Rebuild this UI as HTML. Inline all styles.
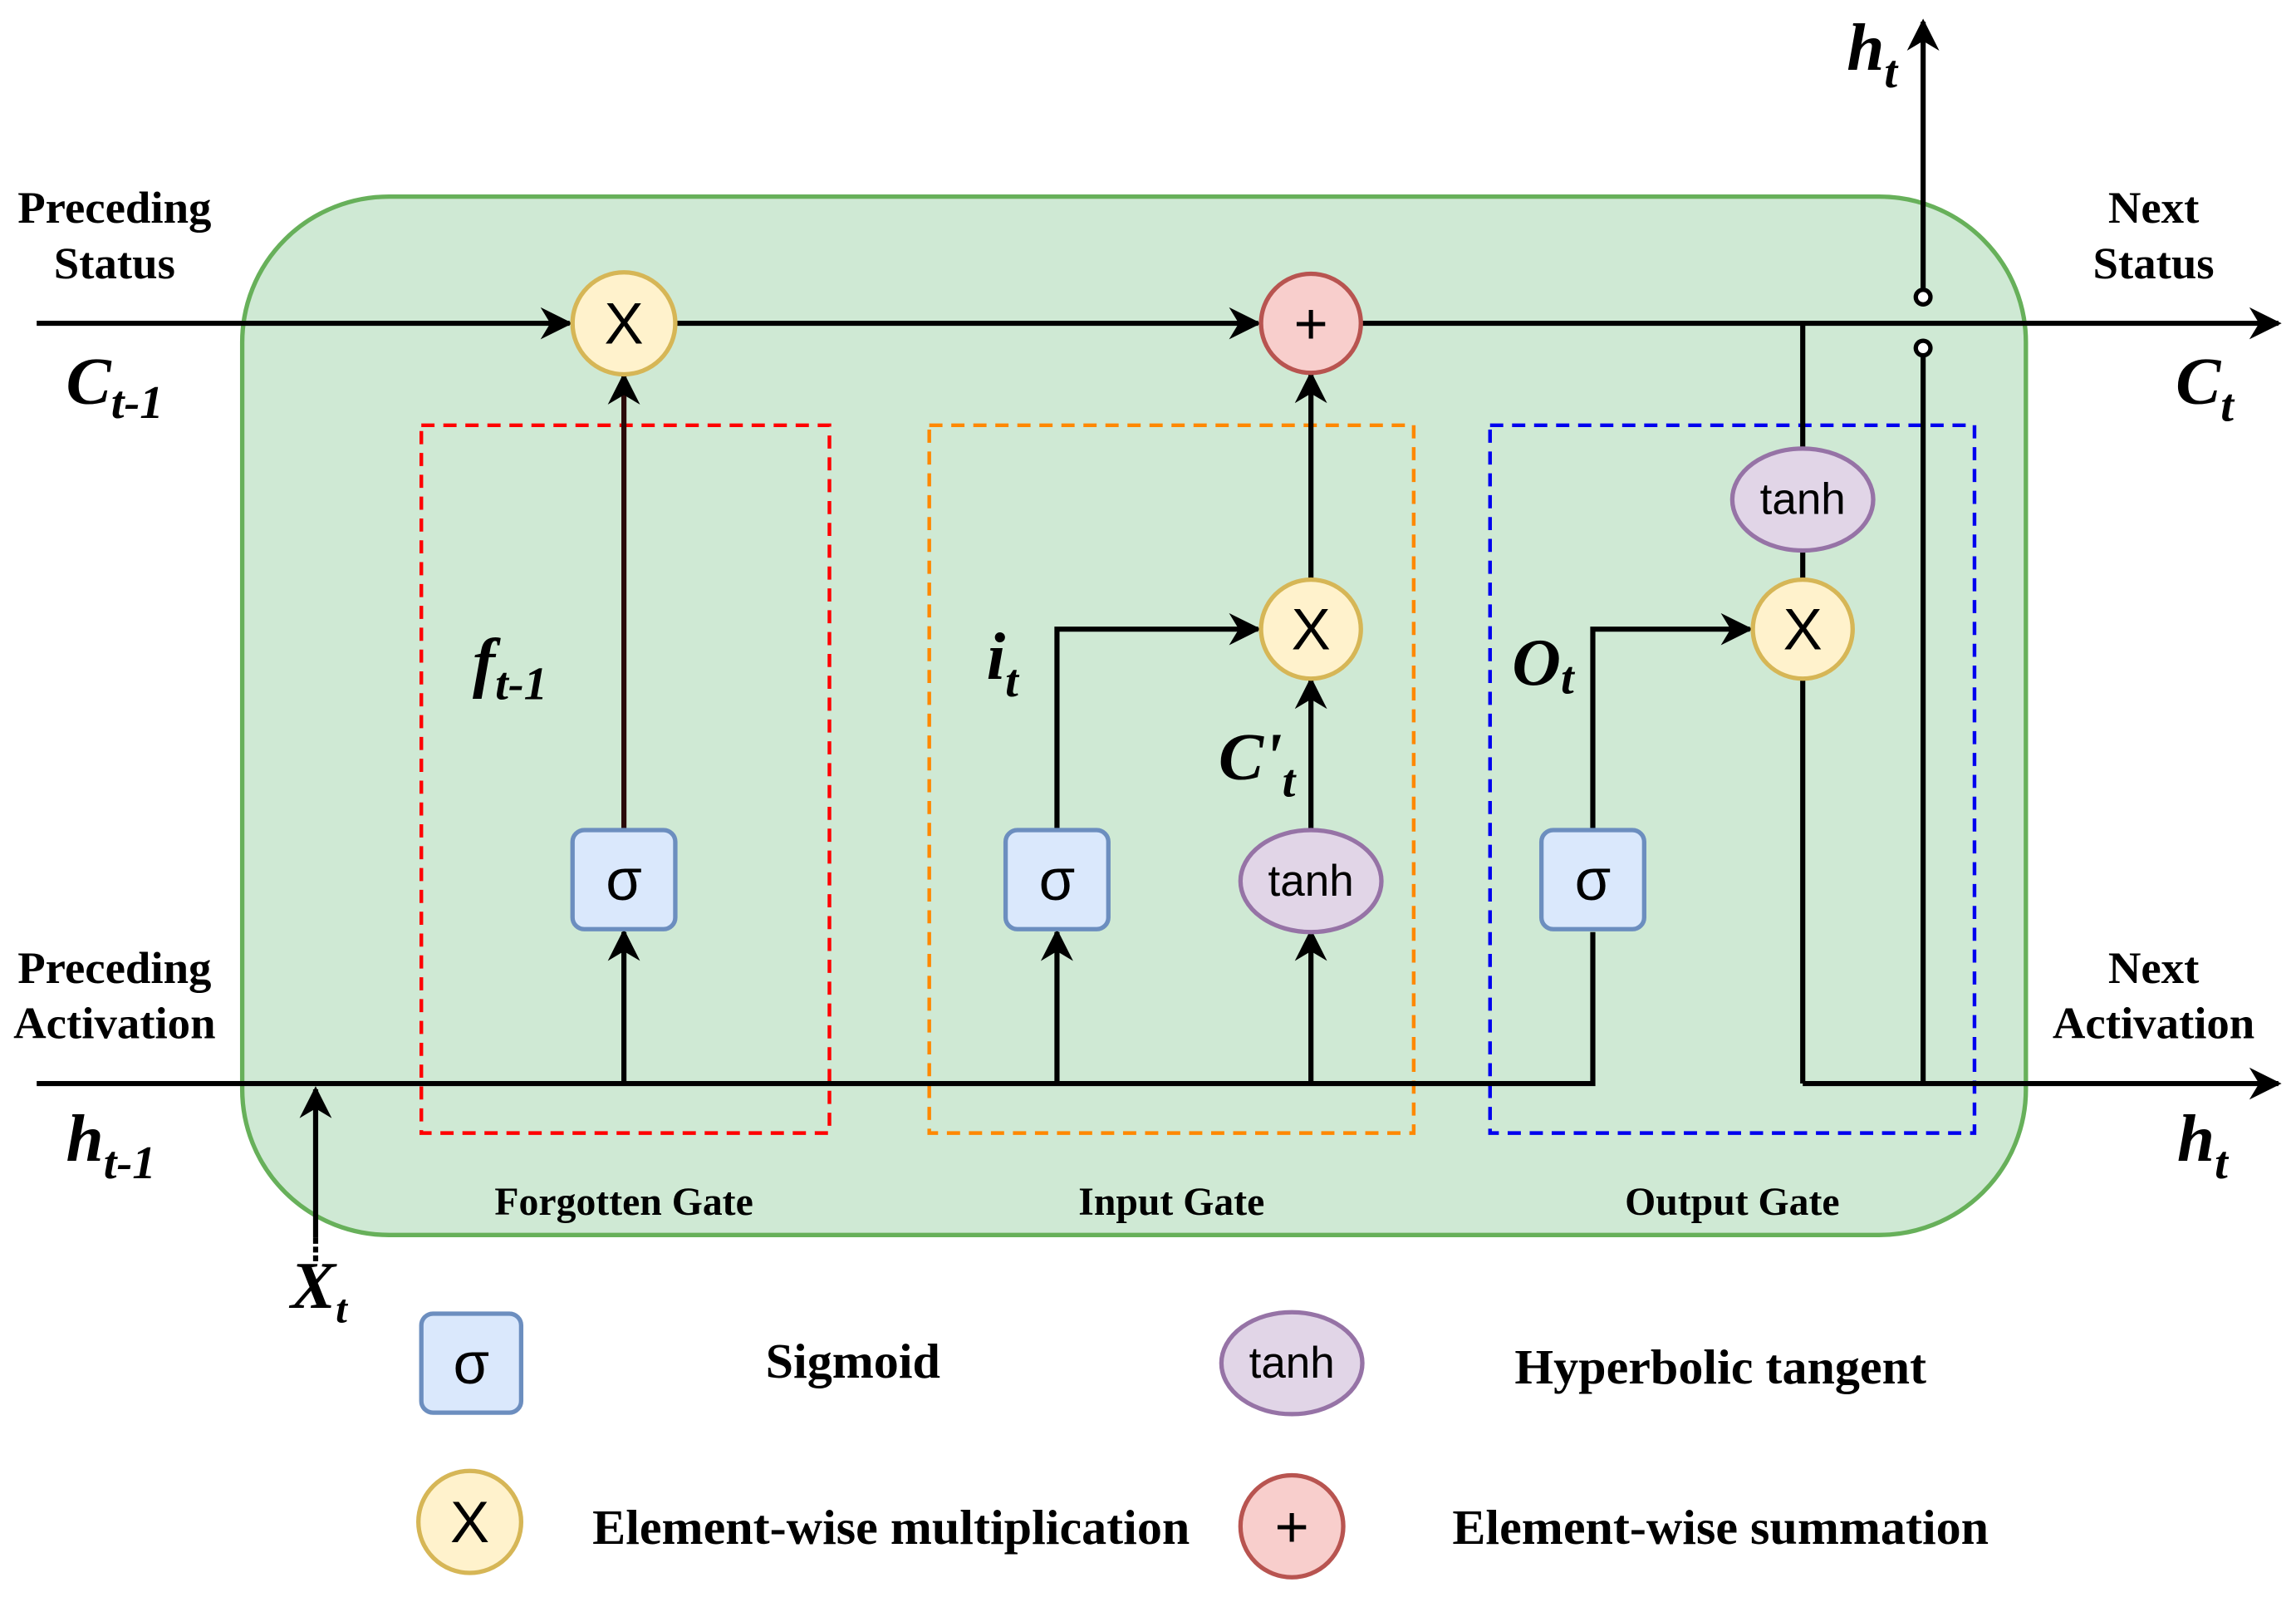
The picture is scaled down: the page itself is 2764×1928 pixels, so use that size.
<!DOCTYPE html>
<html><head><meta charset="utf-8"><style>
html,body{margin:0;padding:0;background:#fff;}
svg{display:block;}
.lbl{font-family:"Liberation Serif",serif;font-weight:bold;font-size:31px;fill:#000;text-anchor:middle;}
.lg{font-family:"Liberation Serif",serif;font-weight:bold;font-size:34px;fill:#000;text-anchor:middle;}
.gl{font-family:"Liberation Serif",serif;font-weight:bold;font-size:27px;fill:#000;text-anchor:middle;}
.m{font-family:"Liberation Serif",serif;font-weight:bold;font-style:italic;font-size:46px;fill:#000;}
.s{font-family:"Liberation Sans",sans-serif;font-size:40px;fill:#000;text-anchor:middle;dominant-baseline:central;}
.t{font-family:"Liberation Sans",sans-serif;font-size:30px;fill:#000;text-anchor:middle;dominant-baseline:central;}
</style></head><body>
<svg width="2764" height="1928" viewBox="0 0 1564 1100" preserveAspectRatio="none" xmlns="http://www.w3.org/2000/svg">
<defs>
<marker id="b" viewBox="0 0 10 10" refX="9" refY="5" markerWidth="22" markerHeight="22" markerUnits="userSpaceOnUse" orient="auto">
<path d="M0,0 L10,5 L0,10 L3,5 z" fill="#000"/></marker>
</defs>
<rect x="165" y="135" width="1215" height="713" rx="100" fill="#cfe9d4" stroke="#67b05a" stroke-width="3"/>
<g fill="none" stroke-width="2.5" stroke-dasharray="9,6">
<rect x="287" y="292" width="278" height="486" stroke="#ff0000"/>
<rect x="633" y="292" width="330" height="486" stroke="#ff8800"/>
<rect x="1015" y="292" width="330" height="486" stroke="#0000ee"/>
</g>
<g stroke="#000" stroke-width="3.5" fill="none">
<line x1="25" y1="222" x2="388" y2="222" marker-end="url(#b)"/>
<line x1="460" y1="222" x2="857" y2="222" marker-end="url(#b)"/>
<line x1="927" y1="222" x2="1552" y2="222" marker-end="url(#b)"/>
<polyline points="25,744 1085,744 1085,640"/>
<line x1="1228" y1="744" x2="1552" y2="744" marker-end="url(#b)"/>
<line x1="215" y1="850" x2="215" y2="748" marker-end="url(#b)"/>
<line x1="215" y1="850" x2="215" y2="866" stroke-dasharray="4,2"/>
<line x1="425" y1="744" x2="425" y2="640" marker-end="url(#b)"/>
<line x1="425" y1="570" x2="425" y2="258" stroke="#2a0a0a" marker-end="url(#b)"/>
<line x1="720" y1="744" x2="720" y2="640" marker-end="url(#b)"/>
<polyline points="720,570 720,432 857,432" marker-end="url(#b)"/>
<line x1="893" y1="744" x2="893" y2="640" marker-end="url(#b)"/>
<line x1="893" y1="570" x2="893" y2="467" marker-end="url(#b)"/>
<line x1="893" y1="398" x2="893" y2="257" marker-end="url(#b)"/>
<polyline points="1085,570 1085,432 1192,432" marker-end="url(#b)"/>
<line x1="1228" y1="222" x2="1228" y2="308"/>
<line x1="1228" y1="378" x2="1228" y2="398"/>
<polyline points="1228,466 1228,744"/>
<line x1="1310" y1="744" x2="1310" y2="245"/>
<line x1="1310" y1="199" x2="1310" y2="15" marker-end="url(#b)"/>
<circle cx="1310" cy="239" r="5" fill="#fff" stroke-width="3"/>
<circle cx="1310" cy="204" r="5" fill="#fff" stroke-width="3"/>
</g>
<g stroke-width="3">
<circle cx="425" cy="222" r="35" fill="#fff2cc" stroke="#d6b656"/>
<circle cx="893" cy="222" r="34" fill="#f8cecc" stroke="#b85450"/>
<circle cx="893" cy="432" r="34" fill="#fff2cc" stroke="#d6b656"/>
<circle cx="1228" cy="432" r="34" fill="#fff2cc" stroke="#d6b656"/>
<rect x="390" y="570" width="70" height="68" rx="8" fill="#dae8fc" stroke="#6c8ebf"/>
<rect x="685" y="570" width="70" height="68" rx="8" fill="#dae8fc" stroke="#6c8ebf"/>
<rect x="1050" y="570" width="70" height="68" rx="8" fill="#dae8fc" stroke="#6c8ebf"/>
<ellipse cx="893" cy="605" rx="48" ry="35" fill="#e1d5e7" stroke="#9673a6"/>
<ellipse cx="1228" cy="343" rx="48" ry="35" fill="#e1d5e7" stroke="#9673a6"/>
<rect x="287" y="902" width="68" height="68" rx="8" fill="#dae8fc" stroke="#6c8ebf"/>
<ellipse cx="880" cy="936" rx="48" ry="35" fill="#e1d5e7" stroke="#9673a6"/>
<circle cx="320" cy="1045" r="35" fill="#fff2cc" stroke="#d6b656"/>
<circle cx="880" cy="1048" r="35" fill="#f8cecc" stroke="#b85450"/>
</g>
<text class="s" x="425" y="222">X</text>
<text class="s" x="893" y="222">+</text>
<text class="s" x="893" y="432">X</text>
<text class="s" x="1228" y="432">X</text>
<text class="s" x="425" y="604">σ</text>
<text class="s" x="720" y="604">σ</text>
<text class="s" x="1085" y="604">σ</text>
<text class="t" x="893" y="605">tanh</text>
<text class="t" x="1228" y="343">tanh</text>
<text class="s" x="321" y="936">σ</text>
<text class="t" x="880" y="936">tanh</text>
<text class="s" x="320" y="1045">X</text>
<text class="s" x="880" y="1048">+</text>
<text class="lbl" x="78" y="153">Preceding</text>
<text class="lbl" x="78" y="191">Status</text>
<text class="lbl" x="1467" y="153">Next</text>
<text class="lbl" x="1467" y="191">Status</text>
<text class="lbl" x="78" y="675">Preceding</text>
<text class="lbl" x="78" y="713">Activation</text>
<text class="lbl" x="1467" y="675">Next</text>
<text class="lbl" x="1467" y="713">Activation</text>
<text class="gl" x="425" y="834">Forgotten Gate</text>
<text class="gl" x="798" y="834">Input Gate</text>
<text class="gl" x="1180" y="834">Output Gate</text>
<text class="lg" x="581" y="946">Sigmoid</text>
<text class="lg" x="1172" y="950">Hyperbolic tangent</text>
<text class="lg" x="607" y="1060">Element-wise multiplication</text>
<text class="lg" x="1172" y="1060">Element-wise summation</text>
<text class="m" x="45" y="277">C<tspan font-size="32" dy="10">t-1</tspan></text>
<text class="m" x="1482" y="277">C<tspan font-size="32" dy="12">t</tspan></text>
<text class="m" x="1258" y="48">h<tspan font-size="32" dy="12">t</tspan></text>
<text class="m" x="45" y="797">h<tspan font-size="32" dy="12">t-1</tspan></text>
<text class="m" x="1483" y="797">h<tspan font-size="32" dy="12">t</tspan></text>
<text class="m" x="198" y="898" font-size="38">X<tspan font-size="28" dy="10">t</tspan></text>
<text class="m" x="322" y="470">f<tspan font-size="32" dy="10">t-1</tspan></text>
<text class="m" x="672" y="466">i<tspan font-size="32" dy="12">t</tspan></text>
<text class="m" x="830" y="535">C'<tspan font-size="32" dy="12">t</tspan></text>
<text class="m" x="1030" y="470">O<tspan font-size="32" dy="6">t</tspan></text>
</svg>
</body></html>
